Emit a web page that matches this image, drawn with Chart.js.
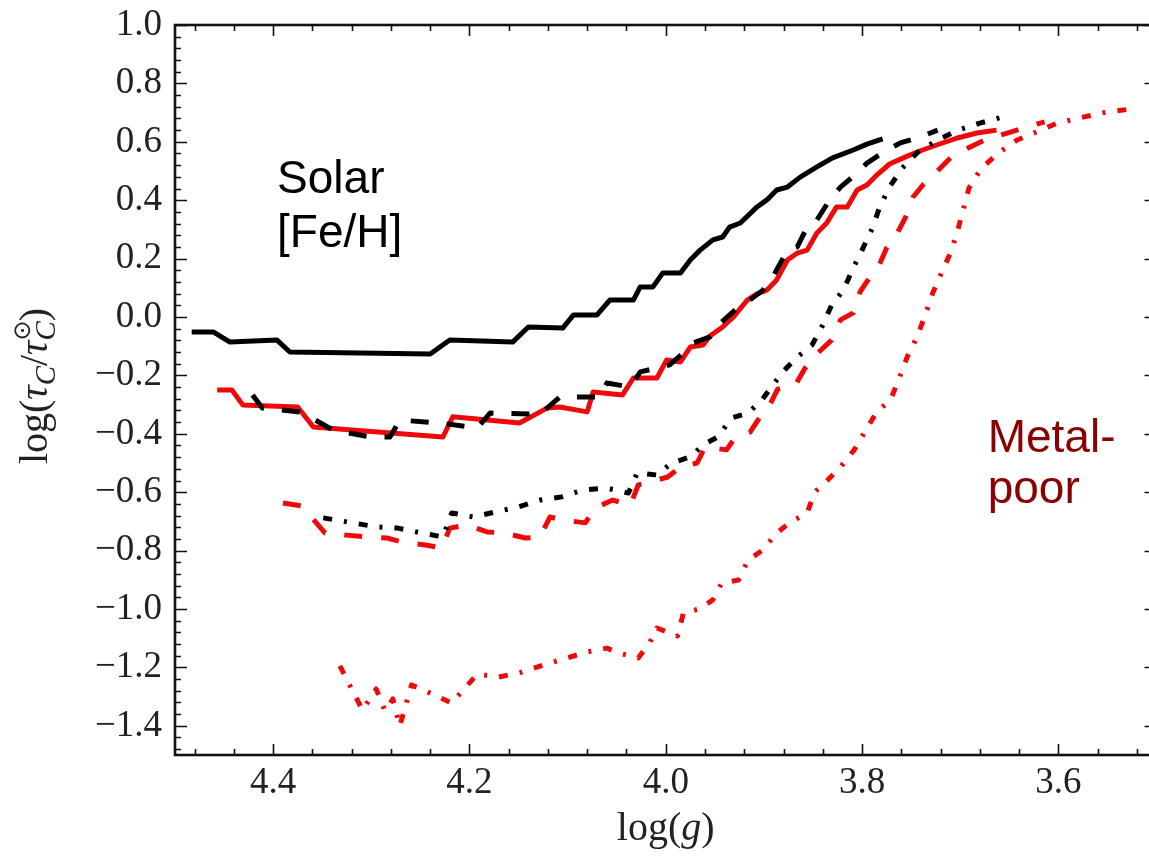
<!DOCTYPE html>
<html>
<head>
<meta charset="utf-8">
<script src="https://cdn.jsdelivr.net/npm/chart.js@4.4.0/dist/chart.umd.min.js"></script>
<style>
  html, body { margin: 0; padding: 0; background: #fff; overflow: hidden; }
  #wrap { width: 1160px; height: 862px; }
</style>
</head>
<body>
<div id="wrap"><canvas id="chart" width="1160" height="862"></canvas></div>
<script>
// tick labels
const xTicks = [4.4, 4.2, 4.0, 3.8, 3.6];
const yTicks = [1.0, 0.8, 0.6, 0.4, 0.2, 0.0, -0.2, -0.4, -0.6, -0.8, -1.0, -1.2, -1.4];

// solar [Fe/H], black solid
const blackSolidX = [4.483, 4.461, 4.444, 4.396, 4.383, 4.240, 4.220, 4.156, 4.140, 4.105, 4.094, 4.070, 4.057, 4.033, 4.026, 4.013, 4.003, 3.985, 3.975, 3.965, 3.952, 3.942, 3.935, 3.924, 3.907, 3.897, 3.887, 3.876, 3.863, 3.846, 3.830, 3.809, 3.795, 3.779];
const blackSolidY = [-0.051, -0.051, -0.086, -0.079, -0.120, -0.127, -0.079, -0.086, -0.034, -0.038, 0.007, 0.007, 0.058, 0.058, 0.103, 0.103, 0.151, 0.151, 0.195, 0.229, 0.264, 0.274, 0.308, 0.322, 0.377, 0.401, 0.435, 0.445, 0.479, 0.514, 0.545, 0.572, 0.592, 0.610];

// black dashed
const blackDashedX = [4.421, 4.411, 4.373, 4.357, 4.339, 4.301, 4.281, 4.271, 4.230, 4.192, 4.179, 4.128, 4.108, 4.067, 4.060, 4.036, 4.026, 3.996, 3.982, 3.972, 3.955, 3.943, 3.927, 3.917, 3.901, 3.891, 3.876, 3.866, 3.856, 3.846, 3.833, 3.822, 3.805, 3.795, 3.775, 3.761, 3.741, 3.723];
const blackDashedY = [-0.267, -0.312, -0.325, -0.353, -0.387, -0.411, -0.411, -0.353, -0.363, -0.380, -0.329, -0.333, -0.274, -0.274, -0.226, -0.240, -0.188, -0.164, -0.123, -0.089, -0.068, -0.017, 0.031, 0.051, 0.092, 0.137, 0.229, 0.240, 0.308, 0.332, 0.401, 0.445, 0.493, 0.527, 0.572, 0.596, 0.616, 0.640];

// black dash-dot
const blackDashDotX = [4.349, 4.319, 4.294, 4.273, 4.248, 4.227, 4.218, 4.196, 4.174, 4.151, 4.128, 4.106, 4.084, 4.060, 4.038, 4.029, 4.009, 3.994, 3.975, 3.962, 3.947, 3.933, 3.916, 3.902, 3.891, 3.879, 3.866, 3.851, 3.841, 3.831, 3.819, 3.809, 3.800, 3.789, 3.782, 3.772, 3.759, 3.743, 3.723, 3.702, 3.680, 3.657];
const blackDashDotY = [-0.688, -0.705, -0.719, -0.723, -0.740, -0.753, -0.671, -0.685, -0.668, -0.651, -0.627, -0.616, -0.592, -0.586, -0.603, -0.534, -0.541, -0.500, -0.479, -0.438, -0.411, -0.346, -0.329, -0.284, -0.233, -0.182, -0.137, -0.096, -0.034, 0.041, 0.092, 0.168, 0.229, 0.308, 0.377, 0.445, 0.510, 0.565, 0.606, 0.640, 0.664, 0.685];

// metal-poor, red solid
const redSolidX = [4.457, 4.442, 4.431, 4.375, 4.359, 4.227, 4.217, 4.149, 4.121, 4.108, 4.080, 4.074, 4.044, 4.033, 4.009, 3.999, 3.985, 3.975, 3.962, 3.955, 3.942, 3.931, 3.917, 3.907, 3.897, 3.887, 3.876, 3.866, 3.856, 3.846, 3.836, 3.826, 3.815, 3.805, 3.795, 3.785, 3.772, 3.758, 3.744, 3.724, 3.703, 3.683, 3.663];
const redSolidY = [-0.250, -0.250, -0.301, -0.308, -0.377, -0.411, -0.342, -0.363, -0.312, -0.308, -0.325, -0.257, -0.267, -0.209, -0.209, -0.147, -0.154, -0.103, -0.096, -0.065, -0.034, 0.000, 0.058, 0.079, 0.092, 0.127, 0.195, 0.219, 0.229, 0.288, 0.322, 0.377, 0.377, 0.435, 0.452, 0.486, 0.524, 0.545, 0.565, 0.589, 0.613, 0.630, 0.640];

// red dashed
const redDashedX = [4.390, 4.371, 4.347, 4.325, 4.306, 4.284, 4.268, 4.245, 4.228, 4.220, 4.203, 4.182, 4.164, 4.143, 4.128, 4.118, 4.105, 4.082, 4.072, 4.054, 4.036, 4.028, 4.016, 3.998, 3.985, 3.968, 3.960, 3.938, 3.929, 3.914, 3.904, 3.894, 3.886, 3.868, 3.858, 3.845, 3.831, 3.822, 3.809, 3.802, 3.792, 3.782, 3.775, 3.764, 3.756, 3.748, 3.738, 3.724, 3.710, 3.692, 3.675, 3.652, 3.636, 3.614];
const redDashedY = [-0.637, -0.647, -0.740, -0.747, -0.753, -0.757, -0.771, -0.781, -0.791, -0.723, -0.712, -0.736, -0.740, -0.757, -0.753, -0.685, -0.695, -0.705, -0.654, -0.627, -0.644, -0.575, -0.565, -0.548, -0.514, -0.500, -0.445, -0.455, -0.411, -0.394, -0.342, -0.301, -0.247, -0.233, -0.175, -0.123, -0.079, -0.010, 0.014, 0.086, 0.137, 0.182, 0.236, 0.288, 0.339, 0.411, 0.452, 0.497, 0.545, 0.579, 0.606, 0.630, 0.647, 0.668];

// red dash-dot
const redDashDotX = [4.332, 4.309, 4.295, 4.286, 4.278, 4.271, 4.259, 4.240, 4.218, 4.192, 4.170, 4.147, 4.125, 4.104, 4.080, 4.060, 4.048, 4.028, 4.016, 4.009, 3.988, 3.982, 3.966, 3.952, 3.943, 3.926, 3.916, 3.901, 3.888, 3.874, 3.856, 3.848, 3.835, 3.822, 3.808, 3.796, 3.785, 3.771, 3.762, 3.754, 3.744, 3.736, 3.728, 3.719, 3.710, 3.703, 3.697, 3.691, 3.679, 3.661, 3.642, 3.622, 3.601, 3.578, 3.555, 3.527];
const redDashDotY = [-1.195, -1.346, -1.274, -1.349, -1.308, -1.401, -1.260, -1.288, -1.322, -1.223, -1.233, -1.216, -1.192, -1.171, -1.147, -1.134, -1.151, -1.168, -1.113, -1.065, -1.092, -1.014, -1.000, -0.969, -0.911, -0.901, -0.832, -0.798, -0.743, -0.705, -0.671, -0.599, -0.558, -0.514, -0.455, -0.387, -0.325, -0.284, -0.209, -0.137, -0.068, 0.003, 0.082, 0.151, 0.219, 0.291, 0.366, 0.442, 0.507, 0.562, 0.606, 0.634, 0.664, 0.682, 0.699, 0.712];

// text on the plot, in data coordinates
const notes = [
  { text: "Solar", x: 4.396, y: 0.425, color: "#000000" },
  { text: "[Fe/H]", x: 4.396, y: 0.240, color: "#000000" },
  { text: "Metal-", x: 3.672, y: -0.462, color: "#8b0000" },
  { text: "poor", x: 3.672, y: -0.637, color: "#8b0000" },
];

const RED = "#ee0a0a";
const SERIF = "'Liberation Serif', 'Times New Roman', serif";
const LABEL_SIZE = 37;

function series(label, xs, ys, color, dash) {
  return {
    label: label,
    data: xs.map((x, i) => ({ x: x, y: ys[i] })),
    borderColor: color,
    borderWidth: 5,
    borderDash: dash,
    borderCapStyle: "butt",
    borderJoinStyle: "round",
    pointRadius: 0,
    fill: false,
    tension: 0,
  };
}

// draws a row of text pieces (for sub/superscripts)
function drawPieces(ctx, pieces, x, y) {
  let total = 0;
  pieces.forEach((p) => {
    ctx.font = p.font;
    p.w = ctx.measureText(p.t).width;
    if (!p.stack) total += p.w;
  });
  let cx = x - total / 2;
  pieces.forEach((p) => {
    ctx.font = p.font;
    ctx.fillText(p.t, cx, y + (p.dy || 0));
    if (!p.stack) cx += p.w;
  });
}

const extras = {
  id: "extras",
  afterDraw(chart) {
    const ctx = chart.ctx;
    const a = chart.chartArea;
    const xs = chart.scales.x;
    const ys = chart.scales.y;
    ctx.save();
    ctx.strokeStyle = "#111";
    ctx.lineWidth = 1.6;
    // ticks pointing inward, on all four sides
    for (let k = 0; k <= 24; k++) {
      const v = 3.52 + k * 0.04;
      const major = Math.abs(v * 5 - Math.round(v * 5)) < 1e-6;
      const len = major ? 11 : 6;
      const px = Math.round(xs.getPixelForValue(v)) + 0.5;
      ctx.beginPath();
      ctx.moveTo(px, a.bottom); ctx.lineTo(px, a.bottom - len);
      ctx.moveTo(px, a.top); ctx.lineTo(px, a.top + len);
      ctx.stroke();
    }
    for (let k = 0; k <= 62; k++) {
      const v = -1.48 + k * 0.04;
      const major = Math.abs(v * 5 - Math.round(v * 5)) < 1e-6;
      const len = major ? 12 : 6;
      const py = Math.round(ys.getPixelForValue(v)) + 0.5;
      ctx.beginPath();
      ctx.moveTo(a.left, py); ctx.lineTo(a.left + len, py);
      ctx.moveTo(a.right, py); ctx.lineTo(a.right - len, py);
      ctx.stroke();
    }
    // frame
    ctx.lineWidth = 2.6;
    ctx.strokeStyle = "#111";
    ctx.strokeRect(a.left, a.top, a.right - a.left, a.bottom - a.top);

    // axis titles
    ctx.fillStyle = "#222";
    ctx.textBaseline = "alphabetic";
    ctx.textAlign = "left";
    const big = "40px " + SERIF;
    const bigIt = "italic 40px " + SERIF;
    const small = "italic 29px " + SERIF;
    drawPieces(ctx, [
      { t: "log(", font: big },
      { t: "g", font: bigIt },
      { t: ")", font: big },
    ], (a.left + a.right) / 2, 840);

    ctx.save();
    ctx.translate(47, (a.top + a.bottom) / 2 - 4);
    ctx.rotate(-Math.PI / 2);
    drawPieces(ctx, [
      { t: "log(", font: big },
      { t: "τ", font: bigIt },
      { t: "C", font: small, dy: 8 },
      { t: "/", font: big },
      { t: "τ", font: bigIt },
      { t: "⊙", font: "24px 'DejaVu Sans', sans-serif", dy: -17, stack: true },
      { t: "C", font: small, dy: 8 },
      { t: ")", font: big },
    ], 0, 0);
    ctx.restore();

    // notes
    ctx.font = "46px 'Liberation Sans', Arial, sans-serif";
    notes.forEach((n) => {
      ctx.fillStyle = n.color;
      ctx.fillText(n.text, xs.getPixelForValue(n.x), ys.getPixelForValue(n.y));
    });
    ctx.restore();
  },
};

new Chart(document.getElementById("chart"), {
  type: "line",
  data: {
    datasets: [
      series("black solid", blackSolidX, blackSolidY, "#000000", []),
      series("black dashed", blackDashedX, blackDashedY, "#000000", [18, 18]),
      series("black dash-dot", blackDashDotX, blackDashDotY, "#000000", [9, 12, 3, 12]),
      series("red solid", redSolidX, redSolidY, RED, []),
      series("red dashed", redDashedX, redDashedY, RED, [18, 19]),
      series("red dash-dot", redDashDotX, redDashDotY, RED, [9, 12, 3, 12]),
    ],
  },
  options: {
    animation: false,
    responsive: false,
    devicePixelRatio: 1,
    layout: { padding: { top: 25, right: 3.5, left: 0, bottom: 0 } },
    plugins: { legend: { display: false }, tooltip: { enabled: false } },
    scales: {
      x: {
        type: "linear",
        reverse: true,
        min: 3.5,
        max: 4.5,
        afterBuildTicks: (s) => { s.ticks = xTicks.map((v) => ({ value: v })); },
        afterFit: (s) => { s.height = 107; s.paddingLeft = 0; s.paddingRight = 0; },
        grid: { display: false, drawTicks: false },
        border: { display: false },
        ticks: {
          padding: 6,
          maxRotation: 0,
          autoSkip: false,
          color: "#222",
          font: { family: SERIF, size: LABEL_SIZE },
          callback: (v) => Number(v).toFixed(1),
        },
      },
      y: {
        type: "linear",
        min: -1.5,
        max: 1.0,
        afterBuildTicks: (s) => { s.ticks = yTicks.map((v) => ({ value: v })); },
        afterFit: (s) => { s.width = 175; s.paddingTop = 0; s.paddingBottom = 0; },
        grid: { display: false, drawTicks: false },
        border: { display: false },
        ticks: {
          padding: 13,
          autoSkip: false,
          color: "#222",
          font: { family: SERIF, size: LABEL_SIZE },
          callback: (v) => Number(v).toFixed(1).replace("-", "\u2212"),
        },
      },
    },
  },
  plugins: [extras],
});
</script>
</body>
</html>
